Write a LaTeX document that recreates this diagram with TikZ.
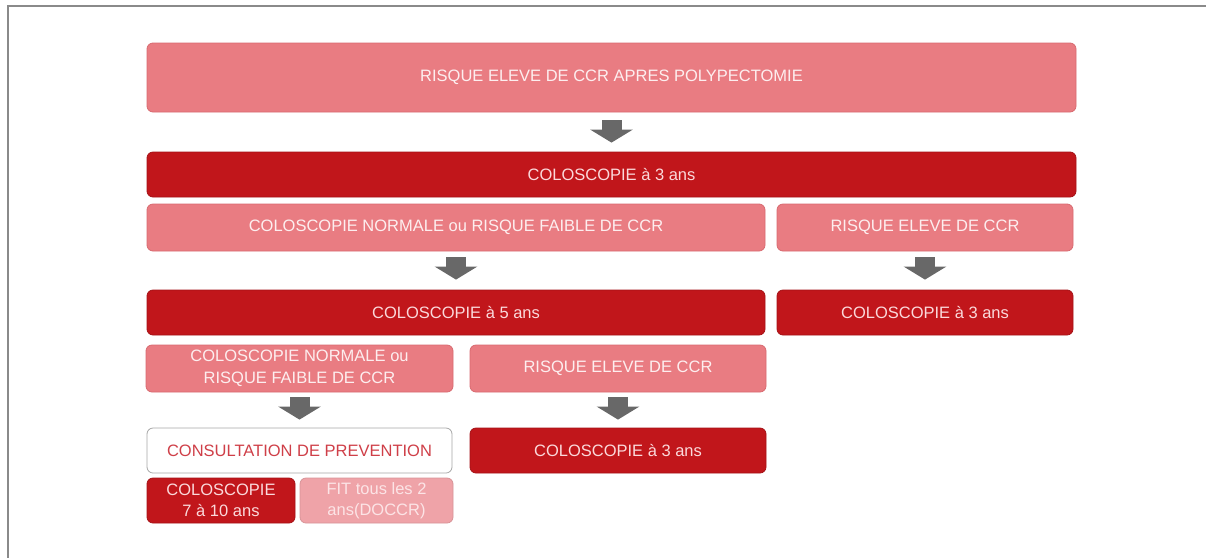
\documentclass[tikz,border=0pt]{standalone}
\usepackage{fontspec}
\setmainfont{Liberation Sans}
\usetikzlibrary{arrows.meta}
\definecolor{lightbox}{HTML}{E97C82}
\definecolor{lightedge}{HTML}{D86A70}
\definecolor{darkbox}{HTML}{C1161B}
\definecolor{darkedge}{HTML}{A51216}
\definecolor{palebox}{HTML}{EFA3A8}
\definecolor{paletext}{HTML}{FCE4E6}
\definecolor{lighttext}{HTML}{FDEEEF}
\definecolor{darktext}{HTML}{FBD9DB}
\definecolor{redtext}{HTML}{CF3F48}
\definecolor{arrowgray}{HTML}{686868}
\definecolor{framegray}{HTML}{8A8A8A}
\tikzset{
  box/.style={rectangle, rounded corners=6pt, inner sep=0pt, align=center,
    font=\fontsize{16.5}{21.5}\selectfont, line width=0.8pt},
  lightstyle/.style={box, fill=lightbox, draw=lightedge, text=lighttext},
  darkstyle/.style={box, fill=darkbox, draw=darkedge, text=darktext},
  palestyle/.style={box, fill=palebox, draw=palebox!90!black, text=paletext},
  whitestyle/.style={box, fill=white, draw=gray!70, text=redtext},
  blockarrow/.style={line width=20pt, arrowgray,
    -{Triangle[width=42pt,length=13pt]}},
}
\begin{document}
\begin{tikzpicture}[x=1pt,y=-1pt]
\useasboundingbox (0,0) rectangle (1206,558);
\draw[framegray, line width=2pt] (1206,6) -- (8,6) -- (8,558);

\node[lightstyle, minimum width=929pt, minimum height=69pt] (b1) at (611.5,77.5)
  {RISQUE ELEVE DE CCR APRES POLYPECTOMIE};
\node[darkstyle, minimum width=929pt, minimum height=45pt] (b2) at (611.5,174.5)
  {COLOSCOPIE à 3 ans};
\node[lightstyle, minimum width=618pt, minimum height=47pt] (b3l) at (456,227.5)
  {COLOSCOPIE NORMALE ou RISQUE FAIBLE DE CCR};
\node[lightstyle, minimum width=296pt, minimum height=47pt] (b3r) at (925,227.5)
  {RISQUE ELEVE DE CCR};
\node[darkstyle, minimum width=618pt, minimum height=45pt] (b4l) at (456,312.5)
  {COLOSCOPIE à 5 ans};
\node[darkstyle, minimum width=296pt, minimum height=45pt] (b4r) at (925,312.5)
  {COLOSCOPIE à 3 ans};
\node[lightstyle, minimum width=307pt, minimum height=47pt] (b5l) at (299.5,368.5)
  {COLOSCOPIE NORMALE ou\\RISQUE FAIBLE DE CCR};
\node[lightstyle, minimum width=296pt, minimum height=47pt] (b5m) at (618,368.5)
  {RISQUE ELEVE DE CCR};
\node[whitestyle, minimum width=305pt, minimum height=45pt] (b6l) at (299.5,450.5)
  {CONSULTATION DE PREVENTION};
\node[darkstyle, minimum width=296pt, minimum height=45pt] (b6m) at (618,450.5)
  {COLOSCOPIE à 3 ans};
\node[darkstyle, minimum width=148pt, minimum height=45pt] (b7a) at (221,500.5)
  {COLOSCOPIE\\7 à 10 ans};
\node[palestyle, minimum width=153pt, minimum height=45pt] (b7b) at (376.5,500.5)
  {FIT tous les 2\\ans(DOCCR)};

\draw[blockarrow, shorten <=8pt, shorten >=9pt] (b1.south) -- (b2.north);
\draw[blockarrow, shorten <=6pt, shorten >=10pt] (b3l.south) -- (b4l.north);
\draw[blockarrow, shorten <=6pt, shorten >=10pt] (b3r.south) -- (b4r.north);
\draw[blockarrow, shorten <=5pt, shorten >=8pt] (b5l.south) -- (b6l.north);
\draw[blockarrow, shorten <=5pt, shorten >=8pt] (b5m.south) -- (b6m.north);
\end{tikzpicture}
\end{document}
